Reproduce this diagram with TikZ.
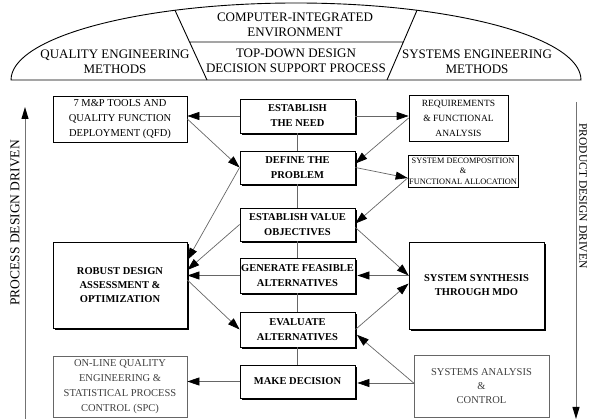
\documentclass[tikz,border=0pt]{standalone}
\usepackage{fontspec}
\setmainfont{Liberation Serif}
\usetikzlibrary{arrows.meta,shadows}

\begin{document}
\begin{tikzpicture}
[x=1pt, y=-1pt,
 mainbox/.style={draw, fill=white, line width=0.8pt, minimum width=115pt, inner sep=0pt, align=center,
   font=\fontsize{10.5}{15}\selectfont\bfseries,
   drop shadow={shadow xshift=1.6pt, shadow yshift=-1.6pt, fill=black, opacity=1}},
 bigbox/.style={mainbox, minimum width=134pt, font=\fontsize{10.5}{14}\selectfont\bfseries},
 toolbox/.style={draw, fill=white, line width=0.7pt, inner sep=0pt, align=center, font=\fontsize{10.5}{15}\selectfont},
 greybox/.style={toolbox, draw=black!60, text=black!75},
 domelabel/.style={align=center, font=\fontsize{13}{15}\selectfont},
 link/.style={draw=black!60, line width=0.7pt},
 flow/.style={link, -{Triangle[length=12pt, width=8pt, color=black]}},
 sideflow/.style={draw=black!55, line width=1pt, -{Triangle[length=12pt, width=7pt, color=black]}}]
\useasboundingbox (0,0) rectangle (589,419);

\draw[line width=0.9pt] (11,80) arc[start angle=180, end angle=0, x radius=285pt, y radius=77pt] -- cycle;
\draw[line width=0.9pt] (175,10.3) -- (207,80) (417,10.3) -- (387,80) (189.6,42) -- (403.3,42);
\node[domelabel] (cie) at (295,24.5) {COMPUTER-INTEGRATED\\ENVIRONMENT};
\node[domelabel] (tdd) at (296,60.5) {TOP-DOWN DESIGN\\DECISION SUPPORT PROCESS};
\node[domelabel] (qem) at (115,62) {QUALITY ENGINEERING\\METHODS};
\node[domelabel] (sem) at (477,62) {SYSTEMS ENGINEERING\\METHODS};

\node[mainbox, minimum height=34pt] (need) at (297.5,116) {ESTABLISH\\THE NEED};
\node[mainbox, minimum height=33pt] (define) at (297.5,167.5) {DEFINE THE\\PROBLEM};
\node[mainbox, minimum height=33pt] (value) at (297.5,224.5) {ESTABLISH VALUE\\OBJECTIVES};
\node[mainbox, minimum height=35pt] (generate) at (297.5,275.5) {GENERATE FEASIBLE\\ALTERNATIVES};
\node[mainbox, minimum height=35pt] (evaluate) at (297.5,329.5) {EVALUATE\\ALTERNATIVES};
\node[mainbox, minimum height=33pt] (decision) at (297.5,381.5) {MAKE DECISION};

\node[toolbox, minimum width=134pt, minimum height=46pt] (qfd) at (120,119) {7 M\&P TOOLS AND\\QUALITY FUNCTION\\DEPLOYMENT (QFD)};
\node[bigbox, minimum height=86pt] (robust) at (120,285) {ROBUST DESIGN\\ASSESSMENT \&\\OPTIMIZATION};
\node[greybox, minimum width=134pt, minimum height=61pt] (spc) at (120,386.5) {ON-LINE QUALITY\\ENGINEERING \&\\STATISTICAL PROCESS\\CONTROL (SPC)};

\node[toolbox, minimum width=99pt, minimum height=46pt, font=\fontsize{9.5}{15}\selectfont] (req) at (458.5,118) {REQUIREMENTS\\\& FUNCTIONAL\\ANALYSIS};
\node[toolbox, minimum width=110pt, minimum height=32pt, font=\fontsize{8.3}{10.5}\selectfont] (decomp) at (463,171) {SYSTEM DECOMPOSITION\\\&\\FUNCTIONAL ALLOCATION};
\node[bigbox, minimum width=135pt, minimum height=87pt] (mdo) at (476.5,285.5) {SYSTEM SYNTHESIS\\THROUGH MDO};
\node[greybox, minimum width=135pt, minimum height=62pt, font=\fontsize{10.5}{14}\selectfont] (analysis) at (481.5,386) {SYSTEMS ANALYSIS\\\&\\CONTROL};

\foreach \a/\b in {need/define,define/value,value/generate,generate/evaluate,evaluate/decision}
  \draw[link] (\a.south) -- (\b.north);

\coordinate (decompin) at ([yshift=-7pt]decomp.west);
\coordinate (anaout) at ([yshift=3pt]analysis.west);

\draw[flow] (need.west) -- (need.west -| qfd.east);
\draw[flow] (need.east) -- (need.east -| req.west);
\draw[flow] (qfd.east) -- (define.west);
\draw[flow] (req.west) -- ([yshift=4pt]define.east);
\draw[flow] (define.east) -- (decompin);
\draw[flow] (decompin) -- ([yshift=1pt]value.east);
\draw[flow] (define.west) -- ([yshift=25pt]robust.east);
\draw[flow] (value.west) -- ([yshift=15pt]robust.east);
\draw[flow] (generate.west) -- (generate.west -| robust.east);
\draw[flow] ([yshift=5pt]robust.east) -- (evaluate.west);
\draw[flow] ([yshift=-3pt]value.east) -- ([yshift=10pt]mdo.west);
\draw[flow, shorten >=2pt] (generate.east -| mdo.west) -- (generate.east);
\draw[flow] (evaluate.east) -- ([yshift=2pt]mdo.west);
\draw[flow, shorten >=2pt] (anaout) -- ([yshift=-4pt]evaluate.east);
\draw[flow, shorten >=2pt] (anaout) -- (anaout -| decision.east);
\draw[flow] (decision.west) -- (decision.west -| spc.east);

\coordinate (procbot) at (25,419);
\coordinate (proctop) at (25,107);
\draw[sideflow] (procbot) -- (proctop);
\node[rotate=90, font=\fontsize{13.5}{14}\selectfont] (proclabel) at (15,223) {PROCESS DESIGN DRIVEN};
\coordinate (prodtop) at (576,102);
\coordinate (prodbot) at (576,419);
\draw[sideflow] (prodtop) -- (prodbot);
\node[rotate=-90, font=\fontsize{11.5}{12}\selectfont, inner sep=0pt] (prodlabel) at (583,196) {PRODUCT DESIGN DRIVEN};
\end{tikzpicture}
\end{document}
